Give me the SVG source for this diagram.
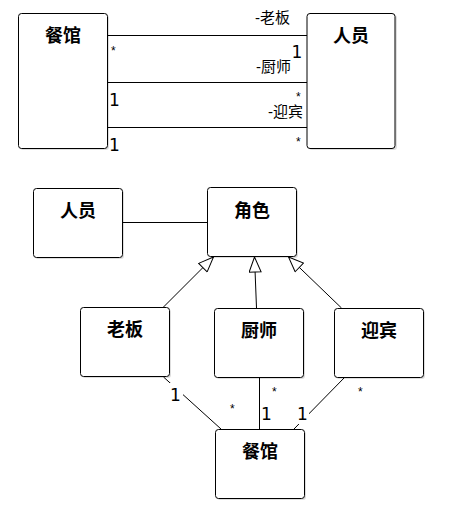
<svg xmlns="http://www.w3.org/2000/svg" width="463" height="506" viewBox="0 0 463 506">
<style>
.box{fill:#fff;stroke:#000;stroke-width:1}
.sh{fill:#000;opacity:0.13}
.title{font-family:"Noto Sans CJK SC","Noto Sans",sans-serif;font-weight:bold;font-size:18px;text-anchor:middle;fill:#000}
.role{font-family:"Liberation Sans","Noto Sans CJK SC",sans-serif;font-size:15px;fill:#000;text-anchor:end}
.num{font-family:"DejaVu Sans",sans-serif;font-size:17px;fill:#000}
.star{font-family:"Liberation Sans",sans-serif;font-size:12px;fill:#000}
.ln{stroke:#000;stroke-width:1;fill:none}
</style>
<defs>
<marker id="gen" viewBox="0 0 17 13" refX="16" refY="6.5" markerWidth="17" markerHeight="13" markerUnits="userSpaceOnUse" orient="auto">
<path d="M1,0.5 L16,6.5 L1,12.5 Z" fill="#fff" stroke="#000" stroke-width="1"/>
</marker>
</defs>
<rect width="463" height="506" fill="#fff"/>

<g id="edges">
<line class="ln" x1="107.5" y1="35.5" x2="307" y2="35.5"/>
<line class="ln" x1="107.5" y1="82.5" x2="307" y2="82.5"/>
<line class="ln" x1="107.5" y1="127.5" x2="307" y2="127.5"/>
<line class="ln" x1="122.5" y1="222.5" x2="207.5" y2="222.5"/>
<line class="ln" x1="163.5" y1="307" x2="213.5" y2="257" marker-end="url(#gen)"/>
<line class="ln" x1="256.5" y1="308" x2="254.5" y2="257" marker-end="url(#gen)"/>
<line class="ln" x1="341.5" y1="308" x2="288.5" y2="257" marker-end="url(#gen)"/>
<line class="ln" x1="163.5" y1="377" x2="221" y2="429"/>
<line class="ln" x1="259.5" y1="377" x2="259.5" y2="429"/>
<line class="ln" x1="345" y1="377" x2="294" y2="429"/>
<rect x="168" y="383" width="15" height="18" fill="#fff"/>
<rect x="297" y="404" width="12" height="20" fill="#fff"/>
<text class="role" x="290" y="23">-老板</text>
<text class="star" x="111" y="55">*</text>
<text class="num" x="291.5" y="58">1</text>
<text class="role" x="291" y="72">-厨师</text>
<text class="num" x="109" y="106">1</text>
<text class="star" x="296" y="100.5">*</text>
<text class="role" x="303" y="117">-迎宾</text>
<text class="num" x="109" y="151">1</text>
<text class="star" x="296" y="146">*</text>
<text class="num" x="170" y="401">1</text>
<text class="star" x="230" y="413">*</text>
<text class="star" x="272" y="396">*</text>
<text class="num" x="261" y="420">1</text>
<text class="num" x="297" y="420">1</text>
<text class="star" x="358" y="396">*</text>
</g>

<g id="restaurant-top">
<rect class="sh" x="20" y="15" width="89" height="135" rx="3"/>
<rect class="box" x="18.5" y="13.5" width="89" height="135" rx="3"/>
<text class="title" x="63" y="42">餐馆</text>
</g>
<g id="person-top">
<rect class="sh" x="309" y="15" width="88" height="135" rx="3"/>
<rect class="box" x="307" y="13.5" width="88" height="135" rx="3"/>
<text class="title" x="351" y="42">人员</text>
</g>
<g id="person">
<rect class="sh" x="35" y="190" width="89" height="69" rx="3"/>
<rect class="box" x="33.5" y="188.5" width="89" height="69" rx="3"/>
<text class="title" x="78" y="217">人员</text>
</g>
<g id="role">
<rect class="sh" x="209" y="189" width="89" height="69" rx="3"/>
<rect class="box" x="207.5" y="187.5" width="89" height="69" rx="3"/>
<text class="title" x="252" y="217">角色</text>
</g>
<g id="boss">
<rect class="sh" x="82" y="309" width="89" height="69" rx="3"/>
<rect class="box" x="80.5" y="307.5" width="89" height="69" rx="3"/>
<text class="title" x="125" y="336">老板</text>
</g>
<g id="chef">
<rect class="sh" x="216" y="310" width="89" height="69" rx="3"/>
<rect class="box" x="214.5" y="308.5" width="89" height="69" rx="3"/>
<text class="title" x="259" y="337">厨师</text>
</g>
<g id="greeter">
<rect class="sh" x="336" y="310" width="89" height="69" rx="3"/>
<rect class="box" x="334.5" y="308.5" width="89" height="69" rx="3"/>
<text class="title" x="379" y="337">迎宾</text>
</g>
<g id="restaurant">
<rect class="sh" x="217" y="431" width="89" height="69" rx="3"/>
<rect class="box" x="215.5" y="429.5" width="89" height="69" rx="3"/>
<text class="title" x="260" y="458">餐馆</text>
</g>
</svg>
